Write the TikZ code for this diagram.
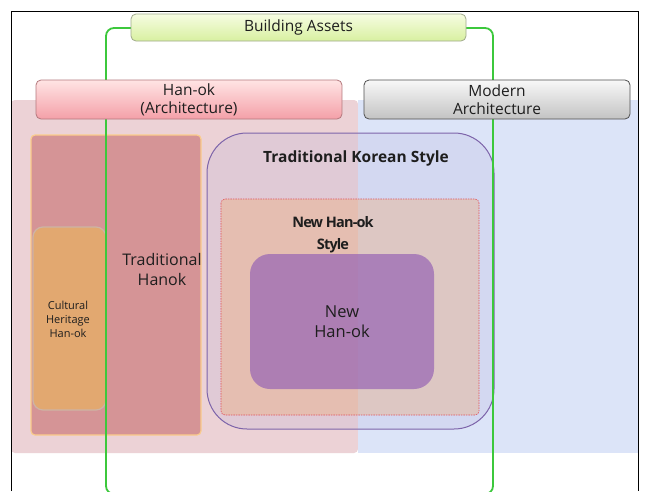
\documentclass[tikz,border=0pt]{standalone}
\usepackage{fontspec}
\setmainfont{Open Sans}
\newfontfamily\tightfont[LetterSpace=-6]{Open Sans}
\definecolor{txt}{RGB}{30,30,30}
\definecolor{pinkreg}{RGB}{236,210,214}
\definecolor{bluereg}{RGB}{220,228,248}
\definecolor{thfill}{RGB}{213,148,150}
\definecolor{thborder}{RGB}{250,204,140}
\definecolor{chfill}{RGB}{226,168,112}
\definecolor{chborder}{RGB}{205,180,165}
\definecolor{tksfill}{RGB}{176,170,214}
\definecolor{tksborder}{RGB}{125,100,170}
\definecolor{peach}{RGB}{240,170,110}
\definecolor{dashred}{RGB}{225,80,90}
\definecolor{nhfill}{RGB}{150,100,180}
\definecolor{brgreen}{RGB}{60,200,60}
\definecolor{baTop}{RGB}{246,252,226}
\definecolor{baBot}{RGB}{216,240,160}
\definecolor{baBorder}{RGB}{160,170,140}
\definecolor{hoTop}{RGB}{255,228,228}
\definecolor{hoBot}{RGB}{244,160,168}
\definecolor{hoBorder}{RGB}{180,120,125}
\definecolor{moTop}{RGB}{248,248,248}
\definecolor{moBot}{RGB}{195,195,195}
\definecolor{moBorder}{RGB}{80,80,80}
\begin{document}
\begin{tikzpicture}[x=1pt,y=-1pt,
  lbl/.style={text=txt, align=center, inner sep=0pt},
  headbox/.style={rounded corners=5pt, line width=0.8pt, inner sep=0pt, text=txt, align=center,
    font=\fontsize{15.5}{18}\selectfont}]
\useasboundingbox (0,0) rectangle (647,491);
\fill[white] (0,0) rectangle (647,491);
% regions
\fill[pinkreg, rounded corners=4pt] (11,100) rectangle (358,453);
\fill[bluereg] (358,100) rectangle (638,453);
% traditional hanok
\draw[draw=thborder, line width=1.2pt, fill=thfill, rounded corners=4pt] (31,135) rectangle (201,435);
\draw[draw=chborder, line width=1.2pt, fill=chfill, rounded corners=10pt] (33,227) rectangle (106,410);
% traditional korean style
\draw[draw=tksborder, line width=1pt, fill=tksfill, fill opacity=0.2, rounded corners=40pt] (207,133) rectangle (494,429);
\draw[draw=dashred, line width=0.6pt, dash pattern=on 1.5pt off 1pt, fill=peach, fill opacity=0.35, rounded corners=4pt] (221,199) rectangle (479,415);
\fill[nhfill, fill opacity=0.7, rounded corners=20pt] (250,254) rectangle (434,389);
% green bracket
\draw[brgreen, line width=1.8pt, rounded corners=8pt] (131,28) -- (106,28) -- (106,494) -- (493,494) -- (493,28) -- (466,28);
% head boxes
\node[headbox, draw=baBorder, top color=baTop, bottom color=baBot, minimum width=335pt, minimum height=27pt] (assets) at (298.5,27.5) {Building Assets};
\node[headbox, draw=hoBorder, top color=hoTop, bottom color=hoBot, minimum width=306pt, minimum height=39pt] (hanok) at (189,99.5) {Han-ok\\(Architecture)};
\node[headbox, draw=moBorder, top color=moTop, bottom color=moBot, minimum width=266pt, minimum height=39pt] (modern) at (497,99.5) {Modern\\Architecture};
% frame
\draw[black, line width=1pt] (11,491) -- (11,11) -- (638,11) -- (638,491);
% labels
\node[lbl, font=\bfseries\fontsize{15.5}{18}\selectfont] (tks) at (356,158) {Traditional Korean Style};
\node[lbl, font=\tightfont\bfseries\fontsize{14.5}{22}\selectfont] (nhs) at (333,235) {New Han-ok\\Style};
\node[lbl, font=\fontsize{16.5}{20}\selectfont] (nh) at (342,322) {New\\Han-ok};
\node[lbl, font=\fontsize{16}{20}\selectfont] (th) at (162,269) {Traditional\\Hanok};
\node[lbl, font=\fontsize{11}{14}\selectfont] (ch) at (68,319) {Cultural\\Heritage\\Han-ok};
\end{tikzpicture}
\end{document}
